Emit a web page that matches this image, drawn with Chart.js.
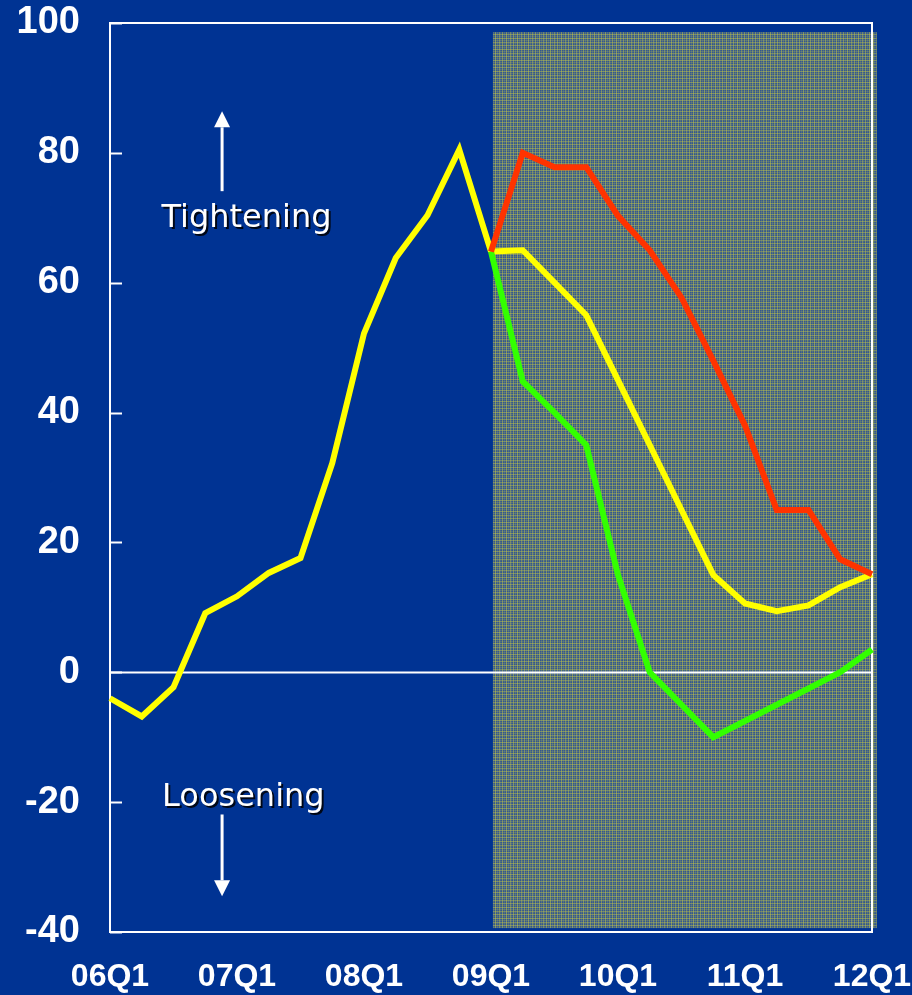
<!DOCTYPE html>
<html>
<head>
<meta charset="utf-8">
<script src="https://cdn.jsdelivr.net/npm/chart.js@4.4.1/dist/chart.umd.min.js"></script>
<style>
  html, body { margin: 0; padding: 0; background: #003393; }
  #wrap { width: 912px; height: 995px; }
</style>
</head>
<body>
<div id="wrap"><canvas id="chart" width="912" height="995"></canvas></div>
<script>
// Quarterly categories, 2006 Q1 to 2012 Q1
const QUARTERS = [
  '06Q1', '06Q2', '06Q3', '06Q4',
  '07Q1', '07Q2', '07Q3', '07Q4',
  '08Q1', '08Q2', '08Q3', '08Q4',
  '09Q1', '09Q2', '09Q3', '09Q4',
  '10Q1', '10Q2', '10Q3', '10Q4',
  '11Q1', '11Q2', '11Q3', '11Q4',
  '12Q1'
];

// Observed net balance, 06Q1 .. 09Q1
const HISTORY = [-4.0, -6.8, -2.3, 9.1, 11.7, 15.3, 17.6, 32.2, 52.2, 63.8, 70.4, 80.5, 64.8];

// Projections, 09Q1 .. 12Q1
const CENTRAL  = [64.8, 65.0, 60.0, 55.0, 45.0, 35.0, 25.0, 15.0, 10.6, 9.4, 10.3, 13.1, 15.1];
const UPSIDE   = [64.8, 80.0, 77.8, 77.8, 70.3, 65.0, 57.7, 48.0, 38.0, 25.0, 25.0, 17.4, 15.1];
const DOWNSIDE = [64.8, 44.8, 40.0, 35.0, 15.0, 0.0, -5.0, -10.0, -7.5, -5.0, -2.5, 0.0, 3.5];

// Value axis
const Y_MIN = -40, Y_MAX = 100, Y_STEP = 20;

// Projection window (category index / value units)
const FORECAST_START = 12;
const SHADE = { from: 12.06, to: 24.15, top: 98.6, bottom: -39.4 };

const BG = '#003393';
const WHITE = '#ffffff';

function pad(values, lead) {
  const out = new Array(QUARTERS.length).fill(null);
  values.forEach((v, i) => { out[lead + i] = v; });
  return out;
}

// Plaid hatch used for the projection window
function makeHatch(ctx) {
  const n = 11;
  const c = document.createElement('canvas');
  c.width = n; c.height = n;
  const g = c.getContext('2d');
  g.fillStyle = '#34588f';
  g.fillRect(0, 0, n, n);
  const cols = [0.5, 0, 0.2, 0, 0.4, 0.1, 0, 0.45, 0, 0.18, 0];
  const rows = [0, 0.42, 0, 0.15, 0, 0.45, 0, 0.2, 0, 0.38, 0.08];
  cols.forEach((a, x) => {
    if (a > 0) { g.fillStyle = 'rgba(206,206,64,' + a + ')'; g.fillRect(x, 0, 1, n); }
  });
  rows.forEach((a, y) => {
    if (a > 0) { g.fillStyle = 'rgba(206,206,64,' + a + ')'; g.fillRect(0, y, n, 1); }
  });
  return ctx.createPattern(c, 'repeat');
}

function arrow(ctx, x, y0, y1) {
  const dir = y1 < y0 ? -1 : 1;
  const head = 16;
  ctx.save();
  ctx.strokeStyle = WHITE;
  ctx.fillStyle = WHITE;
  ctx.lineWidth = 3;
  ctx.beginPath();
  ctx.moveTo(x, y0);
  ctx.lineTo(x, y1 - dir * head);
  ctx.stroke();
  ctx.beginPath();
  ctx.moveTo(x, y1);
  ctx.lineTo(x - 8, y1 - dir * head);
  ctx.lineTo(x + 8, y1 - dir * head);
  ctx.closePath();
  ctx.fill();
  ctx.restore();
}

const frame = {
  id: 'frame',
  beforeDraw(chart) {
    const ctx = chart.ctx;
    ctx.save();
    ctx.fillStyle = BG;
    ctx.fillRect(0, 0, chart.width, chart.height);
    ctx.restore();
  },
  beforeDatasetsDraw(chart) {
    const ctx = chart.ctx;
    const xs = chart.scales.x, ys = chart.scales.y;
    const a = chart.chartArea;
    ctx.save();
    // projection window
    const sx0 = xs.getPixelForValue(SHADE.from);
    const sx1 = xs.getPixelForValue(SHADE.to);
    const sy0 = ys.getPixelForValue(SHADE.top);
    const sy1 = ys.getPixelForValue(SHADE.bottom);
    ctx.fillStyle = makeHatch(ctx);
    ctx.fillRect(sx0, sy0, sx1 - sx0, sy1 - sy0);

    // zero line
    const y0 = Math.round(ys.getPixelForValue(0)) + 0.5;
    ctx.strokeStyle = WHITE;
    ctx.lineWidth = 2;
    ctx.beginPath();
    ctx.moveTo(a.left, y0);
    ctx.lineTo(a.right, y0);
    ctx.stroke();

    // inward ticks on value axis
    for (let v = Y_MIN; v <= Y_MAX; v += Y_STEP) {
      const py = Math.round(ys.getPixelForValue(v)) + 0.5;
      ctx.beginPath();
      ctx.moveTo(a.left, py);
      ctx.lineTo(a.left + 12, py);
      ctx.stroke();
    }

    // top and right frame
    ctx.beginPath();
    ctx.moveTo(a.left, a.top);
    ctx.lineTo(a.right, a.top);
    ctx.lineTo(a.right, a.bottom);
    ctx.stroke();
    ctx.restore();
  },
  afterDatasetsDraw(chart) {
    const ctx = chart.ctx;
    const xs = chart.scales.x, ys = chart.scales.y;
    ctx.save();
    ctx.font = '32px "DejaVu Sans"';
    ctx.textAlign = 'center';
    ctx.textBaseline = 'alphabetic';
    ctx.fillStyle = WHITE;
    ctx.shadowColor = 'rgba(0,0,0,0.85)';
    ctx.shadowOffsetX = 2;
    ctx.shadowOffsetY = 2;
    ctx.fillText('Tightening', xs.getPixelForValue(4.3), ys.getPixelForValue(68.6));
    ctx.fillText('Loosening', xs.getPixelForValue(4.2), ys.getPixelForValue(-20.6));
    ctx.restore();

    const ax = xs.getPixelForValue(3.53);
    arrow(ctx, ax, ys.getPixelForValue(74.1), ys.getPixelForValue(86.4));
    arrow(ctx, ax, ys.getPixelForValue(-21.9), ys.getPixelForValue(-34.5));
  }
};

const lineStyle = {
  pointRadius: 0,
  borderWidth: 6,
  tension: 0,
  fill: false,
  spanGaps: false,
  borderJoinStyle: 'miter',
  borderCapStyle: 'butt'
};

new Chart(document.getElementById('chart'), {
  type: 'line',
  data: {
    labels: QUARTERS,
    datasets: [
      Object.assign({ label: 'Upside', data: pad(UPSIDE, FORECAST_START), borderColor: '#ff3300' }, lineStyle),
      Object.assign({ label: 'Downside', data: pad(DOWNSIDE, FORECAST_START), borderColor: '#33ff00' }, lineStyle),
      Object.assign({ label: 'Central', data: pad(CENTRAL, FORECAST_START), borderColor: '#ffff00' }, lineStyle),
      Object.assign({ label: 'Actual', data: pad(HISTORY, 0), borderColor: '#ffff00' }, lineStyle)
    ]
  },
  options: {
    responsive: false,
    animation: false,
    devicePixelRatio: 1,
    layout: { padding: { top: 23, right: 40, left: 0, bottom: 0 } },
    plugins: { legend: { display: false }, tooltip: { enabled: false } },
    scales: {
      x: {
        type: 'category',
        offset: false,
        grid: { display: false, drawTicks: false },
        border: { display: true, color: WHITE, width: 2 },
        ticks: {
          autoSkip: false,
          maxRotation: 0,
          minRotation: 0,
          padding: 26,
          color: WHITE,
          font: { family: '"Liberation Sans", Arial, sans-serif', weight: 'bold', size: 32 },
          callback: (v, i) => (QUARTERS[i].endsWith('Q1') ? QUARTERS[i] : '')
        },
        afterFit: s => { s.height = 63; s.paddingLeft = 0; s.paddingRight = 0; }
      },
      y: {
        min: Y_MIN,
        max: Y_MAX,
        grid: { display: false, drawTicks: false },
        border: { display: true, color: WHITE, width: 2 },
        ticks: {
          stepSize: Y_STEP,
          padding: 30,
          color: WHITE,
          font: { family: '"Liberation Sans", Arial, sans-serif', weight: 'bold', size: 38 }
        },
        afterFit: s => { s.width = 110; s.paddingTop = 0; s.paddingBottom = 0; }
      }
    }
  },
  plugins: [frame]
});
</script>
</body>
</html>
